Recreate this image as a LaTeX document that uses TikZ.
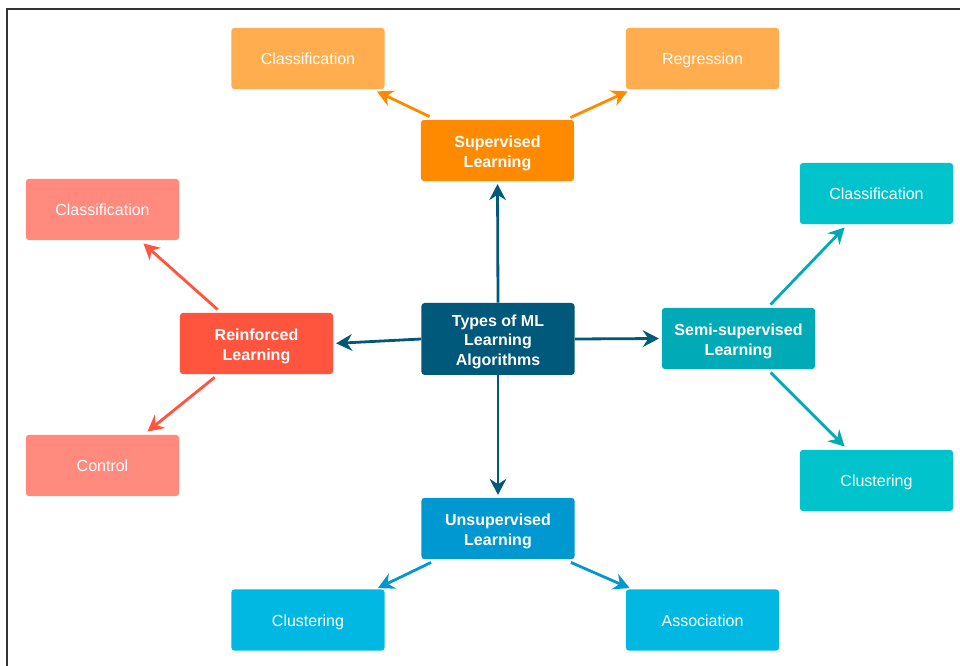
\documentclass[tikz,border=0pt]{standalone}
\usepackage{fontspec}
\setmainfont{Liberation Sans}
\usetikzlibrary{calc,arrows.meta}
\definecolor{supL}{HTML}{FFAD4E}
\definecolor{supD}{HTML}{FF8A00}
\definecolor{reiL}{HTML}{FF8A7D}
\definecolor{reiD}{HTML}{FF543D}
\definecolor{typD}{HTML}{00587A}
\definecolor{semL}{HTML}{00C3CB}
\definecolor{semD}{HTML}{00AAB6}
\definecolor{unsL}{HTML}{00B8E2}
\definecolor{unsD}{HTML}{0098D0}
\definecolor{frame}{HTML}{333333}
\newcommand{\mystrut}{\rule{0pt}{13pt}}
\tikzset{
  box/.style={rectangle, rounded corners=2.5pt, inner sep=0pt, minimum width=115pt, minimum height=46pt,
    text=white, align=center, font=\fontsize{12pt}{15pt}\selectfont},
  leafbox/.style={box, text height=11pt, text depth=2pt},
  mainbox/.style={box, font=\fontsize{12pt}{14.5pt}\selectfont\bfseries},
  conn/.style={line width=2.1pt, -{Stealth[length=12pt,width=12.5pt,inset=4pt]}},
}
\begin{document}
\begin{tikzpicture}[x=0.75pt,y=-0.75pt]
\useasboundingbox (0,0) rectangle (960,666);
\fill[white] (0,0) rectangle (960,666);
% frame
\draw[frame, line width=1.2pt] (7,666) -- (7,9) -- (960,9);

% nodes
\node[mainbox, fill=typD, minimum height=54pt] (types) at (498,339) {\mystrut Types of ML\\Learning\\Algorithms};
\node[mainbox, fill=supD] (sup) at (497.5,150.5) {\mystrut Supervised\\Learning};
\node[leafbox, fill=supL] (supc) at (308,58.5) {Classification};
\node[leafbox, fill=supL] (reg) at (702.5,58.5) {Regression};
\node[mainbox, fill=reiD] (rein) at (256.5,343.5) {\mystrut Reinforced\\Learning};
\node[leafbox, fill=reiL] (reic) at (102.5,209.5) {Classification};
\node[leafbox, fill=reiL] (ctrl) at (102.5,465.5) {Control};
\node[mainbox, fill=semD] (semi) at (738.5,338.5) {\mystrut Semi-supervised\\Learning};
\node[leafbox, fill=semL] (semc) at (876.5,193.5) {Classification};
\node[leafbox, fill=semL] (semcl) at (876.5,480.5) {Clustering};
\node[mainbox, fill=unsD] (uns) at (498,528.5) {\mystrut Unsupervised\\Learning};
\node[leafbox, fill=unsL] (unscl) at (308,620) {Clustering};
\node[leafbox, fill=unsL] (assoc) at (702.5,620) {Association};

% connectors from centre
\draw[conn, typD, shorten >=2pt] (types.north) -- (sup.south);
\draw[conn, typD, shorten >=2pt] (types.west) -- (rein.east);
\draw[conn, typD, shorten >=2pt] (types.east) -- (semi.west);
\draw[conn, typD, shorten >=2pt] (types.south) -- (uns.north);

% supervised
\draw[conn, supD] ($(sup.north west)+(9,-3)$) -- ($(supc.south east)+(-8,2)$);
\draw[conn, supD] ($(sup.north east)+(-4,-2)$) -- ($(reg.south west)+(2,2)$);
% reinforced
\draw[conn, reiD] ($(rein.north west)+(38,-3)$) -- ($(reic.south east)+(-36,3)$);
\draw[conn, reiD] ($(rein.south west)+(35,3)$) -- ($(ctrl.north east)+(-32,-3)$);
% semi
\draw[conn, semD] ($(semi.north west)+(109,-3)$) -- ($(semc.south west)+(45,3)$);
\draw[conn, semD] ($(semi.south west)+(109,3)$) -- ($(semcl.north west)+(45,-3)$);
% unsupervised
\draw[conn, unsD] ($(uns.south west)+(10,3)$) -- ($(unscl.north east)+(-7,-1)$);
\draw[conn, unsD] ($(uns.south east)+(-4,3)$) -- ($(assoc.north west)+(4,-1)$);
\end{tikzpicture}
\end{document}
